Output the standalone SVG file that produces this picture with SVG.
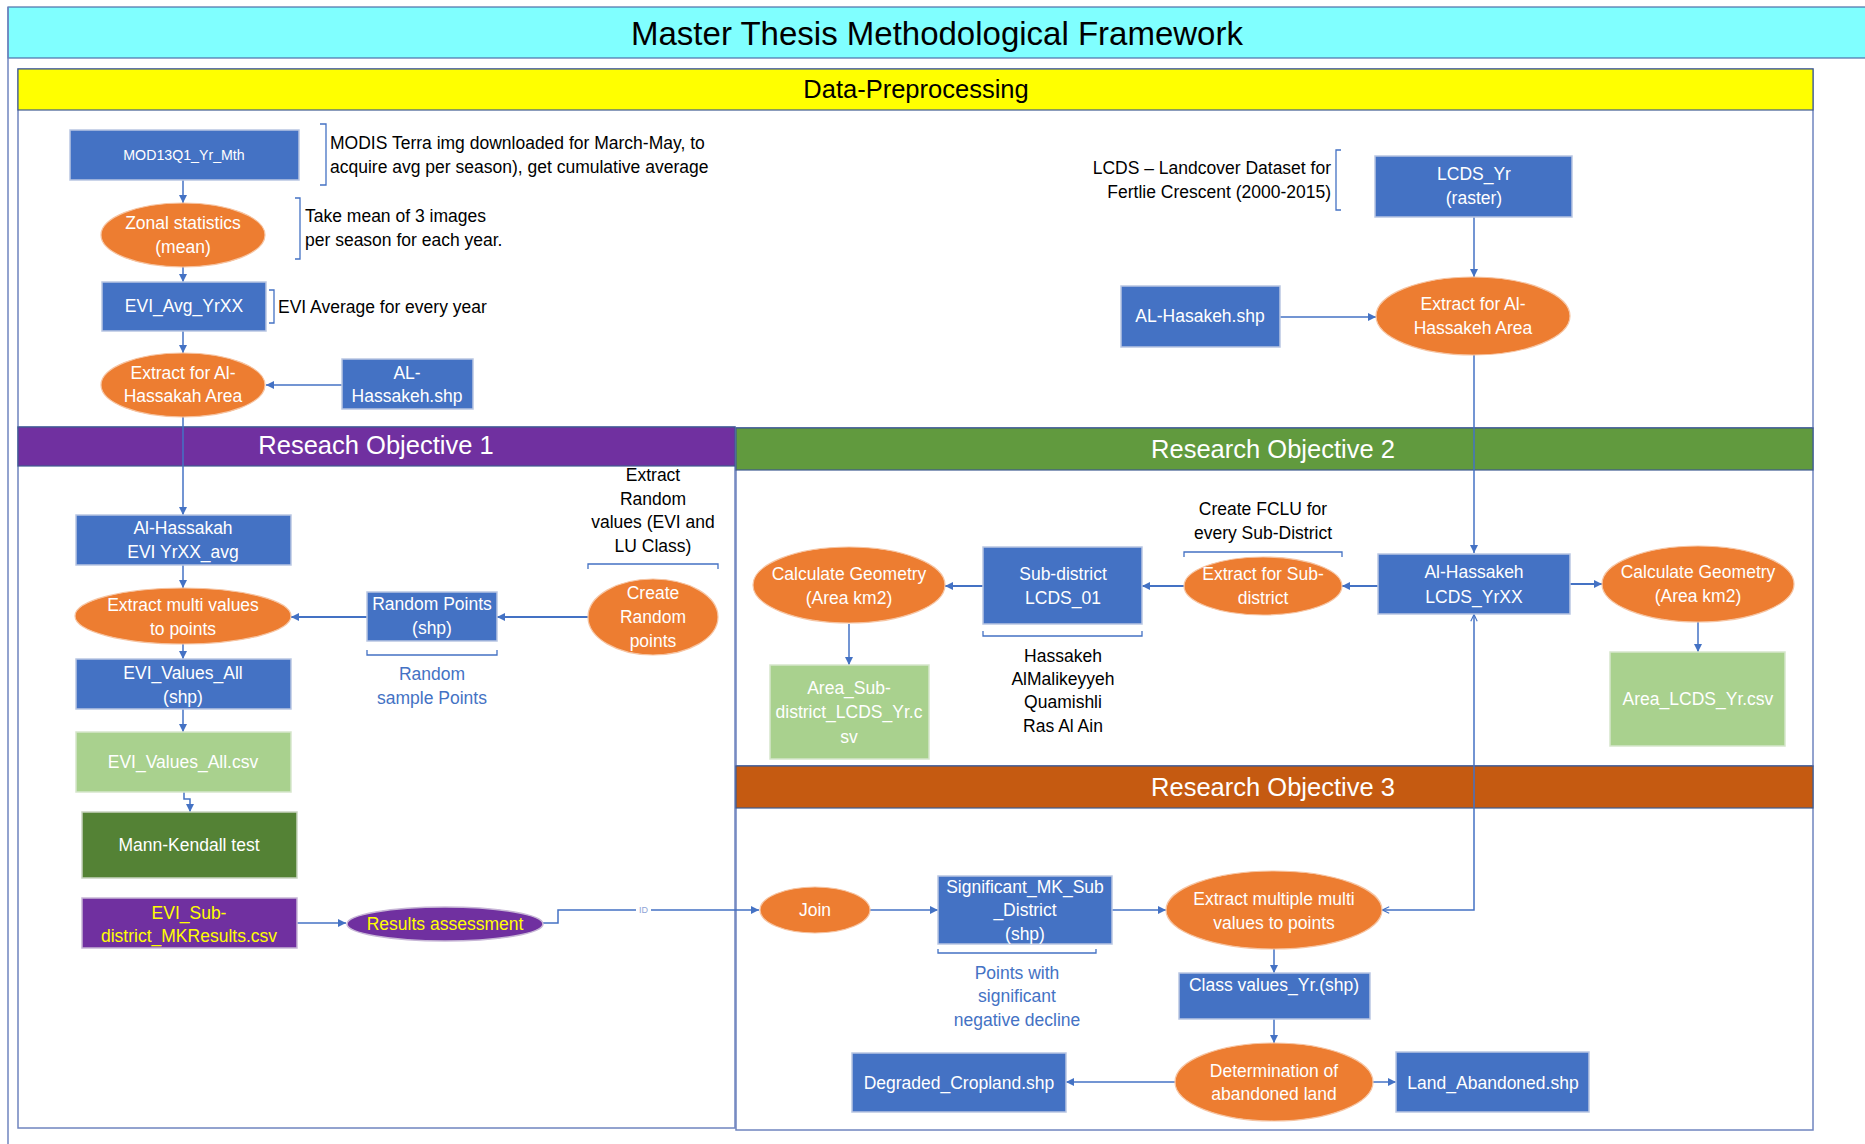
<svg xmlns="http://www.w3.org/2000/svg" width="1865" height="1144" viewBox="0 0 1865 1144">
  <style>
    text { font-family: "Liberation Sans", Arial, sans-serif; }
    .frame { fill: none; stroke: #6F84BF; stroke-width: 1.5; }
    .band { stroke: #3F5A8F; stroke-width: 1.2; }
    .bandtxt { font-size: 25.5px; fill: #ffffff; text-anchor: middle; dominant-baseline: central; }
    .blue { fill: #4472C4; stroke: #B9C6E2; stroke-width: 1.5; }
    .orange { fill: #ED7D31; stroke: #F6C4A2; stroke-width: 1.2; }
    .lgreen { fill: #A9D18E; stroke: #D6E6CB; stroke-width: 1.5; }
    .dgreen { fill: #548235; stroke: #C9D4C0; stroke-width: 1.5; }
    .purple { fill: #7030A0; stroke: #C7B6D6; stroke-width: 1.5; }
    .t { font-size: 17.5px; fill: #ffffff; text-anchor: middle; dominant-baseline: central; }
    .small { font-size: 14.2px; }
    .ty { font-size: 17.5px; fill: #FFFF00; text-anchor: middle; dominant-baseline: central; }
    .note { font-size: 17.5px; fill: #000000; dominant-baseline: central; }
    .mid { text-anchor: middle; }
    .end { text-anchor: end; }
    .bnote { font-size: 17.5px; fill: #4472C4; text-anchor: middle; dominant-baseline: central; }
    .brk { fill: none; stroke: #4472C4; stroke-width: 1.3; }
    .c { fill: none; stroke: #4472C4; stroke-width: 1.5; marker-end: url(#arr); }
    .c.thick { stroke-width: 2; }
  </style>
  <defs>
    <marker id="arr" viewBox="0 0 10 10" refX="10" refY="5" markerWidth="8" markerHeight="8" markerUnits="userSpaceOnUse" orient="auto">
      <path d="M0,0 L10,5 L0,10 z" fill="#4472C4"/>
    </marker>
    <marker id="open" viewBox="0 0 10 10" refX="10" refY="5" markerWidth="8" markerHeight="8" markerUnits="userSpaceOnUse" orient="auto-start-reverse">
      <path d="M1,1 L9.5,5 L1,9" fill="none" stroke="#4472C4" stroke-width="1.4"/>
    </marker>
  </defs>

  <rect width="1865" height="1144" fill="#ffffff"/>

  <!-- outer frame and title -->
  <g id="title">
    <rect x="8" y="7" width="1870" height="51" fill="#80FFFF" stroke="#4C6FA8" stroke-width="1.2"/>
    <line x1="8" y1="7" x2="8" y2="1144" stroke="#6F84BF" stroke-width="1.5"/>
    <text x="937" y="33" font-size="33" fill="#000000" text-anchor="middle" dominant-baseline="central">Master Thesis Methodological Framework</text>
  </g>

  <!-- section frames and header bands -->
  <g id="sections">
    <rect class="frame" x="18" y="69" width="1795" height="359"/>
    <rect class="band" x="18" y="69" width="1795" height="41" fill="#FFFF00"/>
    <text x="916" y="89" font-size="25.5" fill="#000000" text-anchor="middle" dominant-baseline="central">Data-Preprocessing</text>

    <rect class="frame" x="18" y="427" width="717" height="701"/>
    <rect class="band" x="18" y="427" width="717" height="39" fill="#7030A0"/>
    <text class="bandtxt" x="376" y="445">Reseach Objective 1</text>

    <rect class="frame" x="736" y="428" width="1077" height="338"/>
    <rect class="band" x="736" y="428" width="1077" height="42" fill="#619A3E"/>
    <text class="bandtxt" x="1273" y="449">Research Objective 2</text>

    <rect class="frame" x="736" y="766" width="1077" height="364"/>
    <rect class="band" x="736" y="766" width="1077" height="42" fill="#C55A11"/>
    <text class="bandtxt" x="1273" y="787">Research Objective 3</text>
  </g>

  <!-- annotations -->
  <g id="notes">
    <path class="brk" d="M320,124 H326 V185 H320"/>
    <text class="note" x="330" y="143">MODIS Terra img downloaded for March-May, to</text>
    <text class="note" x="330" y="167">acquire avg per season), get cumulative average</text>

    <path class="brk" d="M295,198 H300 V259 H295"/>
    <text class="note" x="305" y="216">Take mean of 3 images</text>
    <text class="note" x="305" y="240">per season for each year.</text>

    <path class="brk" d="M269,290 H274 V323 H269"/>
    <text class="note" x="278" y="307">EVI Average for every year</text>

    <path class="brk" d="M1341,150 H1336 V210 H1341"/>
    <text class="note end" x="1331" y="168">LCDS – Landcover Dataset for</text>
    <text class="note end" x="1331" y="192">Fertlie Crescent (2000-2015)</text>

    <text class="note mid" x="653" y="475">Extract</text>
    <text class="note mid" x="653" y="499">Random</text>
    <text class="note mid" x="653" y="522">values (EVI and</text>
    <text class="note mid" x="653" y="546">LU Class)</text>
    <path class="brk" d="M588,569 V564 H718 V569"/>

    <path class="brk" d="M367,650 V655 H497 V650"/>
    <text class="bnote" x="432" y="674">Random</text>
    <text class="bnote" x="432" y="698">sample Points</text>

    <text class="note mid" x="1263" y="509">Create FCLU for</text>
    <text class="note mid" x="1263" y="533">every Sub-District</text>
    <path class="brk" d="M1184,557 V552 H1342 V557"/>

    <path class="brk" d="M983,631 V636 H1142 V631"/>
    <text class="note mid" x="1063" y="656">Hassakeh</text>
    <text class="note mid" x="1063" y="679">AlMalikeyyeh</text>
    <text class="note mid" x="1063" y="702">Quamishli</text>
    <text class="note mid" x="1063" y="726">Ras Al Ain</text>

    <path class="brk" d="M938,949 V953 H1096 V949"/>
    <text class="bnote" x="1017" y="973">Points with</text>
    <text class="bnote" x="1017" y="996">significant</text>
    <text class="bnote" x="1017" y="1020">negative decline</text>
  </g>

  <!-- connectors -->
  <g id="connectors">
    <path class="c" d="M183,180 V203"/>
    <path class="c" d="M183,267 V282"/>
    <path class="c" d="M183,331 V353"/>
    <path class="c" d="M342,385 H266"/>
    <path class="c" d="M183,416 V515"/>
    <path class="c" d="M1474,217 V277"/>
    <path class="c" d="M1280,317 H1376"/>
    <path class="c" d="M1474,355 V553"/>

    <path class="c" d="M183,565 V588"/>
    <path class="c" d="M183,644 V659"/>
    <path class="c" d="M183,709 V732"/>
    <path class="c" d="M184,792 V799 H190 V812"/>
    <path class="c thick" d="M588,617 H497"/>
    <path class="c thick" d="M367,617 H291"/>
    <path class="c" d="M297,923 H346"/>
    <path class="c" d="M543,923 H558 V910 H759"/>
    <rect x="636" y="904" width="15" height="12" fill="#ffffff"/>
    <text x="643.5" y="910" font-size="9" fill="#8EA3D6" text-anchor="middle" dominant-baseline="central">ID</text>

    <path class="c thick" d="M1378,586 H1342"/>
    <path class="c thick" d="M1184,586 H1142"/>
    <path class="c thick" d="M983,586 H945"/>
    <path class="c" d="M849,624 V665"/>
    <path class="c thick" d="M1570,584 H1602"/>
    <path class="c" d="M1698,622 V652"/>

    <path class="c" d="M870,910 H938"/>
    <path class="c" d="M1112,910 H1166"/>
    <path class="c" d="M1274,949 V973"/>
    <path class="c" d="M1274,1019 V1043"/>
    <path class="c" d="M1175,1082 H1066"/>
    <path class="c" d="M1373,1082 H1396"/>
    <path d="M1382,910 H1474 V614" fill="none" stroke="#4472C4" stroke-width="1.5" marker-start="url(#open)" marker-end="url(#open)"/>
  </g>

  <!-- data preprocessing nodes -->
  <g id="mod13q1">
    <rect class="blue" x="70" y="130" width="229" height="50"/>
    <text class="t small" x="184" y="155">MOD13Q1_Yr_Mth</text>
  </g>
  <g id="zonal-stats">
    <ellipse class="orange" cx="183" cy="235" rx="82" ry="32"/>
    <text class="t" x="183" y="223">Zonal statistics</text>
    <text class="t" x="183" y="247">(mean)</text>
  </g>
  <g id="evi-avg">
    <rect class="blue" x="102" y="282" width="164" height="49"/>
    <text class="t" x="184" y="306">EVI_Avg_YrXX</text>
  </g>
  <g id="extract-hassakah">
    <ellipse class="orange" cx="183" cy="385" rx="82" ry="32"/>
    <text class="t" x="183" y="373">Extract for Al-</text>
    <text class="t" x="183" y="396">Hassakah Area</text>
  </g>
  <g id="al-hassakeh-shp">
    <rect class="blue" x="342" y="359" width="131" height="50"/>
    <text class="t" x="407" y="373">AL-</text>
    <text class="t" x="407" y="396">Hassakeh.shp</text>
  </g>
  <g id="lcds-yr">
    <rect class="blue" x="1375" y="156" width="197" height="61"/>
    <text class="t" x="1474" y="174">LCDS_Yr</text>
    <text class="t" x="1474" y="198">(raster)</text>
  </g>
  <g id="al-hasakeh-shp">
    <rect class="blue" x="1121" y="286" width="159" height="61"/>
    <text class="t" x="1200" y="316">AL-Hasakeh.shp</text>
  </g>
  <g id="extract-hassakeh">
    <ellipse class="orange" cx="1473" cy="316" rx="97" ry="39"/>
    <text class="t" x="1473" y="304">Extract for Al-</text>
    <text class="t" x="1473" y="328">Hassakeh Area</text>
  </g>

  <!-- research objective 1 nodes -->
  <g id="evi-yrxx-avg">
    <rect class="blue" x="76" y="515" width="215" height="50"/>
    <text class="t" x="183" y="528">Al-Hassakah</text>
    <text class="t" x="183" y="552">EVI YrXX_avg</text>
  </g>
  <g id="extract-multi">
    <ellipse class="orange" cx="183" cy="616" rx="108" ry="28"/>
    <text class="t" x="183" y="605">Extract multi values</text>
    <text class="t" x="183" y="629">to points</text>
  </g>
  <g id="evi-values-shp">
    <rect class="blue" x="76" y="659" width="215" height="50"/>
    <text class="t" x="183" y="673">EVI_Values_All</text>
    <text class="t" x="183" y="697">(shp)</text>
  </g>
  <g id="evi-values-csv">
    <rect class="lgreen" x="76" y="732" width="215" height="60"/>
    <text class="t" x="183" y="762">EVI_Values_All.csv</text>
  </g>
  <g id="mann-kendall">
    <rect class="dgreen" x="82" y="812" width="215" height="66"/>
    <text class="t" x="189" y="845">Mann-Kendall test</text>
  </g>
  <g id="mk-results">
    <rect class="purple" x="82" y="898" width="215" height="50"/>
    <text class="ty" x="189" y="913">EVI_Sub-</text>
    <text class="ty" x="189" y="936">district_MKResults.csv</text>
  </g>
  <g id="results-assessment">
    <ellipse class="purple" cx="445" cy="924" rx="98" ry="17"/>
    <text class="ty" x="445" y="924">Results assessment</text>
  </g>
  <g id="random-points">
    <rect class="blue" x="367" y="592" width="130" height="49"/>
    <text class="t" x="432" y="604">Random Points</text>
    <text class="t" x="432" y="628">(shp)</text>
  </g>
  <g id="create-random">
    <ellipse class="orange" cx="653" cy="617" rx="65" ry="38"/>
    <text class="t" x="653" y="593">Create</text>
    <text class="t" x="653" y="617">Random</text>
    <text class="t" x="653" y="641">points</text>
  </g>

  <!-- research objective 2 nodes -->
  <g id="calc-geom-sub">
    <ellipse class="orange" cx="849" cy="585" rx="96" ry="38"/>
    <text class="t" x="849" y="574">Calculate Geometry</text>
    <text class="t" x="849" y="598">(Area km2)</text>
  </g>
  <g id="sub-district">
    <rect class="blue" x="983" y="547" width="159" height="77"/>
    <text class="t" x="1063" y="574">Sub-district</text>
    <text class="t" x="1063" y="598">LCDS_01</text>
  </g>
  <g id="extract-sub">
    <ellipse class="orange" cx="1263" cy="586" rx="79" ry="29"/>
    <text class="t" x="1263" y="574">Extract for Sub-</text>
    <text class="t" x="1263" y="598">district</text>
  </g>
  <g id="lcds-yrxx">
    <rect class="blue" x="1378" y="554" width="192" height="60"/>
    <text class="t" x="1474" y="572">Al-Hassakeh</text>
    <text class="t" x="1474" y="597">LCDS_YrXX</text>
  </g>
  <g id="calc-geom">
    <ellipse class="orange" cx="1698" cy="584" rx="96" ry="38"/>
    <text class="t" x="1698" y="572">Calculate Geometry</text>
    <text class="t" x="1698" y="596">(Area km2)</text>
  </g>
  <g id="area-sub-csv">
    <rect class="lgreen" x="770" y="665" width="159" height="94"/>
    <text class="t" x="849" y="688">Area_Sub-</text>
    <text class="t" x="849" y="712">district_LCDS_Yr.c</text>
    <text class="t" x="849" y="737">sv</text>
  </g>
  <g id="area-lcds-csv">
    <rect class="lgreen" x="1610" y="652" width="175" height="94"/>
    <text class="t" x="1698" y="699">Area_LCDS_Yr.csv</text>
  </g>

  <!-- research objective 3 nodes -->
  <g id="join">
    <ellipse class="orange" cx="815" cy="910" rx="55" ry="23"/>
    <text class="t" x="815" y="910">Join</text>
  </g>
  <g id="significant-mk">
    <rect class="blue" x="938" y="876" width="174" height="68"/>
    <text class="t" x="1025" y="887">Significant_MK_Sub</text>
    <text class="t" x="1025" y="910">_District</text>
    <text class="t" x="1025" y="934">(shp)</text>
  </g>
  <g id="extract-multiple">
    <ellipse class="orange" cx="1274" cy="910" rx="108" ry="39"/>
    <text class="t" x="1274" y="899">Extract multiple multi</text>
    <text class="t" x="1274" y="923">values to points</text>
  </g>
  <g id="class-values">
    <rect class="blue" x="1179" y="973" width="191" height="46"/>
    <text class="t" x="1274" y="985">Class values_Yr.(shp)</text>
  </g>
  <g id="determination">
    <ellipse class="orange" cx="1274" cy="1082" rx="99" ry="39"/>
    <text class="t" x="1274" y="1071">Determination of</text>
    <text class="t" x="1274" y="1094">abandoned land</text>
  </g>
  <g id="degraded-cropland">
    <rect class="blue" x="852" y="1053" width="214" height="59"/>
    <text class="t" x="959" y="1083">Degraded_Cropland.shp</text>
  </g>
  <g id="land-abandoned">
    <rect class="blue" x="1396" y="1052" width="193" height="60"/>
    <text class="t" x="1493" y="1083">Land_Abandoned.shp</text>
  </g>
</svg>
